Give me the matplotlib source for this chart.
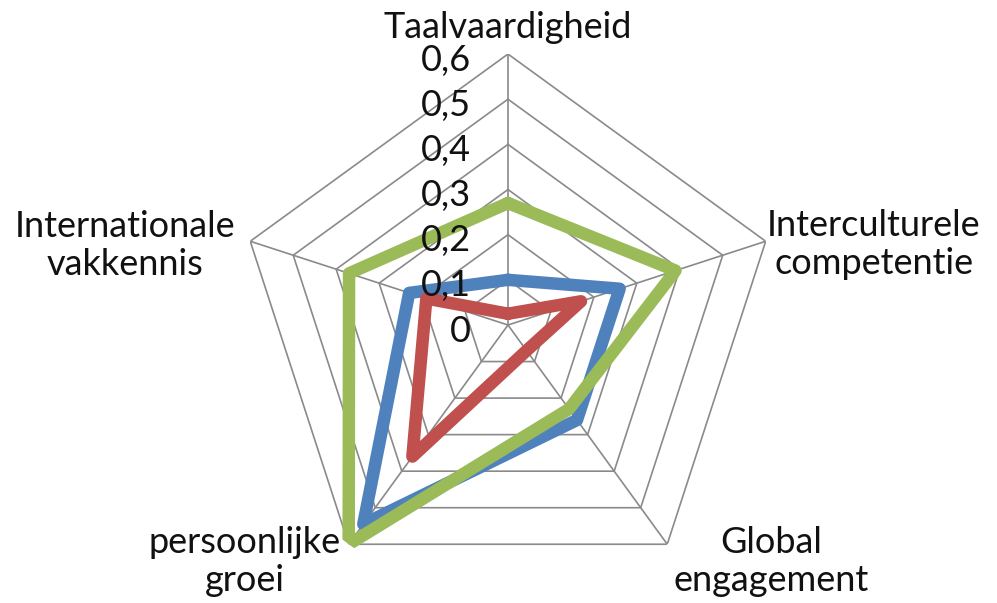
import numpy as np
import matplotlib
matplotlib.use("Agg")
import matplotlib.pyplot as plt

plt.rcParams['font.family'] = ['Lato', 'DejaVu Sans']

# assen, met de klok mee vanaf boven
categories = ['Taalvaardigheid', 'Interculturele\ncompetentie', 'Global\nengagement',
              'persoonlijke\ngroei', 'Internationale\nvakkennis']
blue = [0.10, 0.26, 0.26, 0.545, 0.23]
red = [0.025, 0.17, 0.07, 0.36, 0.19]
green = [0.27, 0.39, 0.23, 0.60, 0.37]
ticks = [0, 0.1, 0.2, 0.3, 0.4, 0.5, 0.6]
tick_labels = ['0', '0,1', '0,2', '0,3', '0,4', '0,5', '0,6']

# label offsets in pixels from de buitenste hoek
label_offsets = [(0, 27), (108, -3), (104, -17), (-104, -17), (-125, -4)]

n = len(categories)
theta = np.arange(n) * 2 * np.pi / n
theta_c = np.append(theta, theta[0])

fig = plt.figure(figsize=(9.97, 6.03), dpi=100)
ax = fig.add_axes([0.2377, 0.0116, 0.5436, 0.8988], projection='polar')
ax.set_theta_zero_location('N')
ax.set_theta_direction(-1)
ax.set_ylim(0, 0.6)
ax.grid(False)
ax.spines['polar'].set_visible(False)
ax.set_xticks([])
ax.set_yticks([])
ax.patch.set_visible(False)

grid_col = '#8a8a8a'
for t in ticks[1:]:
    ax.plot(theta_c, [t] * (n + 1), color=grid_col, lw=1.2, zorder=1)
for th in theta:
    ax.plot([th, th], [0, ticks[-1]], color=grid_col, lw=1.2, zorder=1)

for vals, col in [(blue, '#4F81BD'), (red, '#C0504D'), (green, '#9BBB59')]:
    v = np.append(vals, vals[0])
    ax.plot(theta_c, v, color=col, lw=9, solid_joinstyle='round',
            solid_capstyle='round', zorder=3)

for t, lab in zip(ticks, tick_labels):
    ax.annotate(lab, xy=(0, t), xytext=(-37, -6), textcoords='offset pixels',
                ha='right', va='center', fontsize=26, color='#111111',
                zorder=4, annotation_clip=False)

for th, lab, off in zip(theta, categories, label_offsets):
    ax.annotate(lab, xy=(th, ticks[-1]), xytext=off, textcoords='offset pixels',
                ha='center', va='center', fontsize=26, color='#111111',
                linespacing=1.2, annotation_clip=False)

fig.savefig('out.png', dpi=100)
